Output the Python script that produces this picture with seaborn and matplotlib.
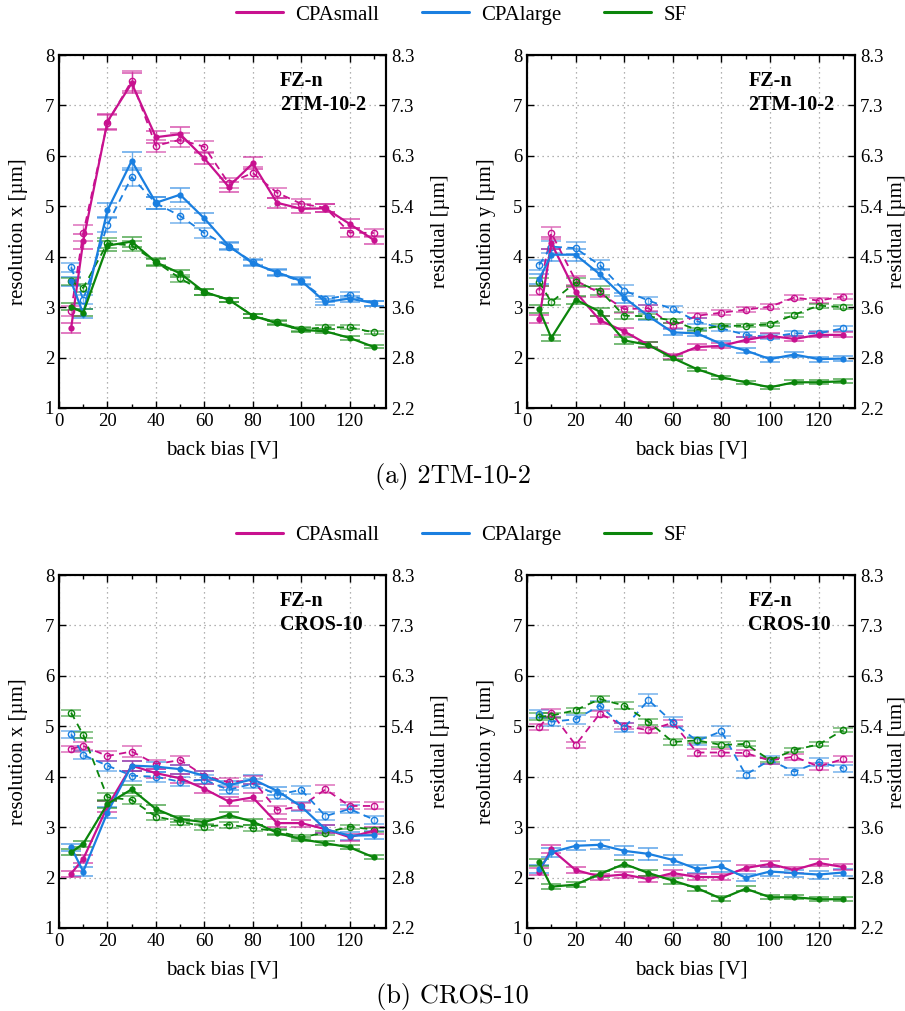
import numpy as np
import pandas as pd
import matplotlib
matplotlib.use("Agg")
import matplotlib.pyplot as plt
from matplotlib.lines import Line2D
from matplotlib.ticker import MultipleLocator
import seaborn as sns

# ---------------------------------------------------------------- data
bias = [5, 10, 20, 30, 40, 50, 60, 70, 80, 90, 100, 110, 120, 130]
series_names = ["CPAsmall", "CPAlarge", "SF"]
residual_labels = ["2.2", "2.8", "3.6", "4.5", "5.4", "6.3", "7.3", "8.3"]

# 2TM-10-2, x direction: resolution (solid) and residual on resolution scale (dashed)
a_x_res_small = [2.58, 4.31, 6.68, 7.44, 6.37, 6.43, 5.95, 5.39, 5.85, 5.07, 4.95, 4.96, 4.65, 4.33]
a_x_rsd_small = [2.93, 4.47, 6.66, 7.49, 6.20, 6.32, 6.18, 5.46, 5.66, 5.27, 5.05, 4.97, 4.48, 4.47]
a_x_res_large = [3.51, 2.87, 4.92, 5.90, 5.07, 5.23, 4.76, 4.22, 3.87, 3.69, 3.52, 3.10, 3.17, 3.08]
a_x_rsd_large = [3.79, 3.15, 4.63, 5.58, 5.06, 4.81, 4.47, 4.20, 3.90, 3.67, 3.51, 3.16, 3.24, 3.08]
a_x_res_sf = [3.01, 2.89, 4.22, 4.30, 3.89, 3.67, 3.30, 3.15, 2.83, 2.68, 2.55, 2.52, 2.39, 2.21]
a_x_rsd_sf = [3.51, 3.38, 4.27, 4.22, 3.90, 3.57, 3.30, 3.15, 2.83, 2.70, 2.56, 2.60, 2.60, 2.50]

# 2TM-10-2, y direction
a_y_res_small = [2.76, 4.27, 3.30, 2.74, 2.52, 2.25, 2.02, 2.21, 2.23, 2.35, 2.43, 2.37, 2.45, 2.45]
a_y_rsd_small = [3.33, 4.47, 3.53, 3.28, 2.96, 2.98, 2.63, 2.83, 2.89, 2.95, 3.01, 3.19, 3.13, 3.21]
a_y_res_large = [3.55, 4.04, 4.04, 3.65, 3.19, 2.82, 2.50, 2.48, 2.27, 2.14, 1.97, 2.06, 1.97, 1.98]
a_y_rsd_large = [3.84, 4.20, 4.17, 3.83, 3.33, 3.13, 2.96, 2.72, 2.58, 2.45, 2.41, 2.48, 2.48, 2.58]
a_y_res_sf = [2.96, 2.39, 3.15, 2.91, 2.34, 2.25, 1.99, 1.77, 1.61, 1.51, 1.41, 1.51, 1.51, 1.53]
a_y_rsd_sf = [3.50, 3.10, 3.49, 3.33, 2.83, 2.82, 2.73, 2.55, 2.63, 2.63, 2.66, 2.85, 3.03, 3.00]

# CROS-10, x direction
b_x_res_small = [2.08, 2.37, 3.41, 4.22, 4.07, 3.97, 3.76, 3.51, 3.59, 3.08, 3.08, 2.96, 2.80, 2.93]
b_x_rsd_small = [4.55, 4.61, 4.41, 4.50, 4.25, 4.33, 4.02, 3.89, 3.93, 3.34, 3.41, 3.75, 3.42, 3.42]
b_x_res_large = [2.60, 2.12, 3.29, 4.22, 4.20, 4.15, 4.02, 3.83, 3.95, 3.72, 3.41, 2.96, 2.83, 2.84]
b_x_rsd_large = [4.84, 4.43, 4.22, 4.02, 4.00, 3.90, 3.94, 3.74, 3.86, 3.64, 3.74, 3.22, 3.36, 3.15]
b_x_res_sf = [2.50, 2.67, 3.46, 3.75, 3.36, 3.16, 3.10, 3.24, 3.11, 2.89, 2.76, 2.68, 2.60, 2.40]
b_x_rsd_sf = [5.27, 4.83, 3.59, 3.54, 3.21, 3.11, 3.01, 3.05, 2.98, 2.92, 2.80, 2.89, 3.01, 2.95]

# CROS-10, y direction
b_y_res_small = [2.12, 2.56, 2.15, 2.02, 2.06, 1.97, 2.09, 2.01, 2.01, 2.19, 2.27, 2.15, 2.29, 2.21]
b_y_rsd_small = [4.98, 5.27, 4.63, 5.25, 5.01, 4.92, 5.07, 4.48, 4.48, 4.47, 4.32, 4.40, 4.20, 4.35]
b_y_res_large = [2.17, 2.50, 2.63, 2.65, 2.53, 2.47, 2.35, 2.17, 2.22, 2.00, 2.12, 2.09, 2.06, 2.10]
b_y_rsd_large = [5.25, 5.09, 5.14, 5.41, 4.97, 5.52, 5.08, 4.71, 4.90, 4.04, 4.33, 4.10, 4.29, 4.17]
b_y_res_sf = [2.30, 1.82, 1.86, 2.07, 2.27, 2.09, 1.94, 1.79, 1.58, 1.78, 1.61, 1.61, 1.57, 1.57]
b_y_rsd_sf = [5.19, 5.21, 5.32, 5.54, 5.41, 5.09, 4.69, 4.72, 4.63, 4.65, 4.33, 4.53, 4.64, 4.92]

# statistical uncertainties (half widths) per point
a_x_err_small = [0.10, 0.15, 0.15, 0.20, 0.12, 0.14, 0.12, 0.10, 0.12, 0.10, 0.09, 0.08, 0.09, 0.08]
a_x_err_large = [0.09, 0.09, 0.14, 0.18, 0.12, 0.14, 0.10, 0.07, 0.06, 0.06, 0.07, 0.06, 0.06, 0.05]
a_x_err_sf = [0.07, 0.07, 0.10, 0.10, 0.07, 0.07, 0.05, 0.04, 0.04, 0.04, 0.04, 0.04, 0.04, 0.03]
a_y_err_small = [0.08, 0.12, 0.09, 0.08, 0.07, 0.06, 0.05, 0.05, 0.05, 0.05, 0.05, 0.05, 0.05, 0.05]
a_y_err_large = [0.10, 0.12, 0.12, 0.10, 0.10, 0.08, 0.06, 0.06, 0.05, 0.05, 0.05, 0.05, 0.05, 0.05]
a_y_err_sf = [0.08, 0.06, 0.08, 0.08, 0.07, 0.05, 0.04, 0.03, 0.03, 0.03, 0.03, 0.04, 0.04, 0.04]
b_x_err_small = [0.06, 0.08, 0.10, 0.10, 0.09, 0.09, 0.09, 0.09, 0.08, 0.08, 0.07, 0.08, 0.07, 0.07]
b_x_err_large = [0.07, 0.08, 0.10, 0.10, 0.10, 0.09, 0.09, 0.09, 0.09, 0.08, 0.08, 0.08, 0.08, 0.08]
b_x_err_sf = [0.06, 0.06, 0.08, 0.08, 0.07, 0.06, 0.06, 0.06, 0.06, 0.05, 0.04, 0.04, 0.04, 0.04]
b_y_err_small = [0.06, 0.08, 0.06, 0.06, 0.06, 0.06, 0.06, 0.06, 0.06, 0.06, 0.06, 0.06, 0.07, 0.06]
b_y_err_large = [0.08, 0.09, 0.09, 0.09, 0.09, 0.12, 0.10, 0.08, 0.10, 0.07, 0.08, 0.07, 0.08, 0.07]
b_y_err_sf = [0.07, 0.05, 0.05, 0.06, 0.07, 0.06, 0.06, 0.05, 0.05, 0.05, 0.04, 0.04, 0.04, 0.04]

panels = [
    dict(sample="2TM-10-2", ylabel="resolution x [µm]", rlabel="residual [µm]",
         res=[a_x_res_small, a_x_res_large, a_x_res_sf],
         rsd=[a_x_rsd_small, a_x_rsd_large, a_x_rsd_sf],
         err=[a_x_err_small, a_x_err_large, a_x_err_sf]),
    dict(sample="2TM-10-2", ylabel="resolution y [µm]", rlabel="residual [µm]",
         res=[a_y_res_small, a_y_res_large, a_y_res_sf],
         rsd=[a_y_rsd_small, a_y_rsd_large, a_y_rsd_sf],
         err=[a_y_err_small, a_y_err_large, a_y_err_sf]),
    dict(sample="CROS-10", ylabel="resolution x [µm]", rlabel="residual [µm]",
         res=[b_x_res_small, b_x_res_large, b_x_res_sf],
         rsd=[b_x_rsd_small, b_x_rsd_large, b_x_rsd_sf],
         err=[b_x_err_small, b_x_err_large, b_x_err_sf]),
    dict(sample="CROS-10", ylabel="resolution y [um]", rlabel="residual [um]",
         res=[b_y_res_small, b_y_res_large, b_y_res_sf],
         rsd=[b_y_rsd_small, b_y_rsd_large, b_y_rsd_sf],
         err=[b_y_err_small, b_y_err_large, b_y_err_sf]),
]

# ---------------------------------------------------------------- style
sns.set_style("ticks")
plt.rcParams["font.family"] = ["Liberation Serif", "DejaVu Serif"]
plt.rcParams.update({
    "axes.edgecolor": "black", "axes.labelcolor": "black", "text.color": "black",
    "xtick.color": "black", "ytick.color": "black",
})
palette = {"CPAsmall": "#c8118f", "CPAlarge": "#1a7fe0", "SF": "#0b850b"}
TICK_FS = 13.5
LABEL_FS = 15

fig = plt.figure(figsize=(9.05, 10.11), dpi=100)
W, H = 905.0, 1011.0


def add_axes_px(left, top, right, bottom):
    return fig.add_axes([left / W, 1 - bottom / H, (right - left) / W, (bottom - top) / H])


boxes = [(59, 55, 386, 408), (527, 55, 855, 408), (59, 575, 386, 928), (527, 575, 855, 928)]
right_pads = [12, 3, 12, 3]

for box, p, rpad in zip(boxes, panels, right_pads):
    ax = add_axes_px(*box)
    rows = []
    for name, res, rsd, err in zip(series_names, p["res"], p["rsd"], p["err"]):
        for b, r, q, e in zip(bias, res, rsd, err):
            rows.append(dict(bias=b, value=r, err=e, series=name, kind="resolution"))
            rows.append(dict(bias=b, value=q, err=e, series=name, kind="residual"))
    df = pd.DataFrame(rows)

    # error bars with wide caps, drawn first so the curves sit on top
    for (name, kind), g in df.groupby(["series", "kind"]):
        ax.errorbar(g["bias"], g["value"], yerr=g["err"], fmt="none",
                    ecolor=palette[name], elinewidth=1.0, capsize=7, capthick=1.2,
                    alpha=0.65 if kind == "resolution" else 0.55, zorder=2)

    sns.lineplot(data=df[df.kind == "residual"], x="bias", y="value", hue="series",
                 hue_order=series_names, palette=palette, ax=ax, legend=False,
                 linewidth=1.3, dashes=False, linestyle=(0, (4, 3)), marker="o",
                 markersize=4.5, markerfacecolor="none", markeredgewidth=1.0,
                 errorbar=None, sort=False, zorder=3)
    sns.lineplot(data=df[df.kind == "resolution"], x="bias", y="value", hue="series",
                 hue_order=series_names, palette=palette, ax=ax, legend=False,
                 linewidth=1.6, marker="o", markersize=4.5, markeredgewidth=0,
                 errorbar=None, sort=False, zorder=4)
    # open markers on the dashed curves need their edge colour set explicitly
    for ln in ax.lines:
        if ln.get_linestyle() not in ("-", "None") and ln.get_marker() == "o":
            ln.set_markeredgecolor(ln.get_color())

    ax.set_xlim(0, 135)
    ax.set_ylim(1, 8)
    ax.xaxis.set_major_locator(MultipleLocator(20))
    ax.xaxis.set_minor_locator(MultipleLocator(10))
    ax.yaxis.set_major_locator(MultipleLocator(1))
    ax.grid(True, which="major", linestyle=(0, (1, 3)), color="#999999", linewidth=0.9)
    ax.tick_params(which="both", direction="in", top=True, right=False,
                   labelsize=TICK_FS, width=1.0)
    ax.tick_params(which="major", length=5)
    ax.tick_params(which="minor", length=3)
    for s in ax.spines.values():
        s.set_linewidth(1.5)
    ax.set_xlabel("back bias [V]", fontsize=LABEL_FS, labelpad=8)
    ax.set_ylabel(p["ylabel"], fontsize=LABEL_FS, labelpad=12)

    ax.text(0.675, 0.955, "FZ-n\n" + p["sample"], transform=ax.transAxes,
            ha="left", va="top", fontsize=14.5, fontweight="bold", linespacing=1.3,
            zorder=6)

    tw = ax.twinx()
    tw.set_ylim(1, 8)
    tw.set_yticks(range(1, 9))
    tw.set_yticklabels(residual_labels)
    tw.tick_params(direction="in", length=5, labelsize=TICK_FS, width=1.0)
    tw.set_ylabel(p["rlabel"], fontsize=LABEL_FS, labelpad=rpad)
    for s in tw.spines.values():
        s.set_linewidth(1.5)

# legends above each row
handles = [Line2D([], [], color=palette[n], linewidth=2.2) for n in series_names]
for ytop in (15, 535):
    fig.legend(handles, series_names, loc="center", bbox_to_anchor=(0.51, 1 - ytop / H),
               ncol=3, frameon=False, fontsize=15, handlelength=2.25,
               columnspacing=2.05, handletextpad=0.6)

# sub-figure captions
fig.text(0.5, 1 - 477 / H, "(a) 2TM-10-2", ha="center", va="center",
         fontsize=19, family=["cmr10", "DejaVu Serif"])
fig.text(0.5, 1 - 997 / H, "(b) CROS-10", ha="center", va="center",
         fontsize=19, family=["cmr10", "DejaVu Serif"])

fig.savefig("out.png", dpi=100)
